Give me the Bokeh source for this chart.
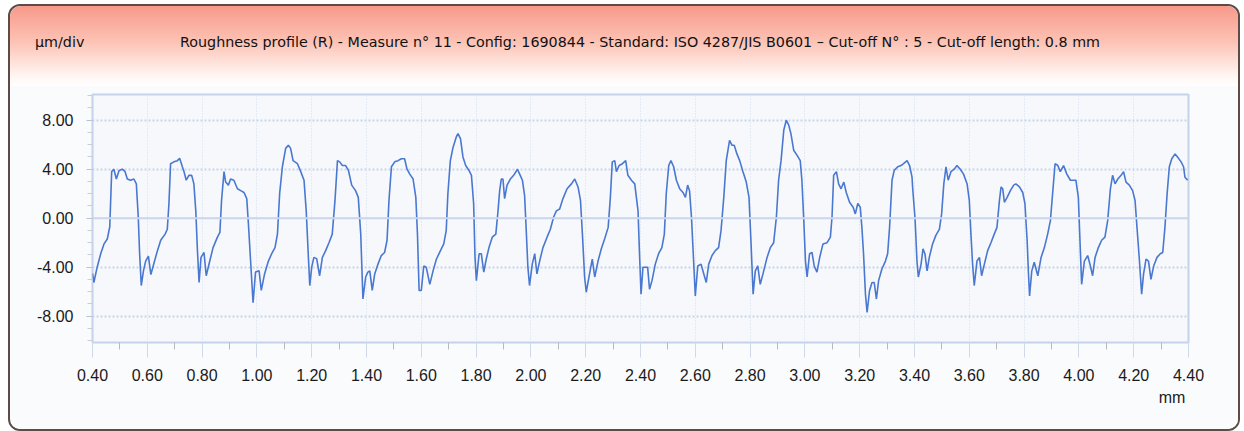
from bokeh.plotting import figure
from bokeh.models import (Range1d, FixedTicker, NumeralTickFormatter, Span, Div, ColumnDataSource,
                          LinearAxis)
from bokeh.layouts import column
from bokeh.embed import file_html
from bokeh.resources import INLINE

unit_label = "µm/div"
title_text = ("Roughness profile (R) - Measure n° 11 - Config: 1690844 - Standard: ISO 4287/JIS B0601"
              " – Cut-off N° : 5 - Cut-off length: 0.8 mm")
x_unit = "mm"
x_unit_pos = 4.34

x_ticks = [0.40, 0.60, 0.80, 1.00, 1.20, 1.40, 1.60, 1.80, 2.00, 2.20, 2.40,
           2.60, 2.80, 3.00, 3.20, 3.40, 3.60, 3.80, 4.00, 4.20, 4.40]
x_minor = [0.5, 0.7, 0.9, 1.1, 1.3, 1.5, 1.7, 1.9, 2.1, 2.3, 2.5, 2.7, 2.9,
           3.1, 3.3, 3.5, 3.7, 3.9, 4.1, 4.3]
y_ticks = [-8.0, -4.0, 0.0, 4.0, 8.0]
y_minor = [-10, -9, -7, -6, -5, -3, -2, -1, 1, 2, 3, 5, 6, 7, 9, 10]
y_grid = [-8.0, -4.0, 4.0, 8.0]

profile_x = [
    0.400, 0.405, 0.417, 0.430, 0.442, 0.454, 0.463, 0.470, 0.478, 0.487, 0.497, 0.509, 0.519, 0.527,
    0.539, 0.551, 0.560, 0.567, 0.572, 0.578, 0.586, 0.594, 0.604, 0.613, 0.624, 0.637, 0.649, 0.665,
    0.673, 0.679, 0.685, 0.697, 0.710, 0.718, 0.728, 0.734, 0.742, 0.752, 0.762, 0.770, 0.777, 0.783,
    0.789, 0.796, 0.807, 0.815, 0.828, 0.840, 0.856, 0.865, 0.871, 0.880, 0.886, 0.896, 0.904, 0.916,
    0.929, 0.941, 0.953, 0.963, 0.969, 0.977, 0.986, 0.995, 1.008, 1.016, 1.028, 1.042, 1.054, 1.066,
    1.075, 1.083, 1.093, 1.105, 1.115, 1.123, 1.132, 1.148, 1.160, 1.172, 1.180, 1.188, 1.193, 1.200,
    1.208, 1.218, 1.229, 1.239, 1.251, 1.263, 1.275, 1.285, 1.294, 1.302, 1.312, 1.324, 1.334, 1.346,
    1.360, 1.370, 1.379,
    1.387, 1.397, 1.405, 1.412, 1.421, 1.430, 1.442, 1.454, 1.466, 1.475, 1.482, 1.491, 1.503, 1.515,
    1.527, 1.539, 1.548, 1.558, 1.570, 1.580, 1.586, 1.592, 1.600, 1.609, 1.618, 1.631, 1.643, 1.655,
    1.670, 1.682, 1.691, 1.697, 1.706, 1.716, 1.728, 1.734, 1.743, 1.752, 1.762, 1.774, 1.783, 1.791,
    1.796, 1.801, 1.811, 1.819, 1.828, 1.837, 1.847, 1.859, 1.872, 1.880, 1.886, 1.892, 1.898, 1.904,
    1.913, 1.925, 1.937, 1.951, 1.959, 1.969, 1.977, 1.983, 1.989, 1.995, 2.005, 2.014, 2.022, 2.032,
    2.044, 2.059, 2.071, 2.083, 2.093, 2.105, 2.117, 2.132, 2.148, 2.160, 2.172, 2.181, 2.188, 2.196,
    2.202, 2.212, 2.224, 2.233, 2.245, 2.257, 2.269, 2.282, 2.290, 2.297, 2.306, 2.312, 2.322, 2.334,
    2.346, 2.354, 2.367, 2.379, 2.391,
    2.396, 2.402, 2.409, 2.418, 2.426, 2.433, 2.442, 2.454, 2.466, 2.478, 2.487, 2.494, 2.503, 2.511,
    2.521, 2.531, 2.543, 2.555, 2.564, 2.572, 2.579, 2.586, 2.592, 2.600, 2.609, 2.621, 2.631, 2.640,
    2.649, 2.661, 2.673, 2.685, 2.694, 2.704, 2.713, 2.725, 2.734, 2.742, 2.752, 2.762, 2.774, 2.786,
    2.796, 2.803, 2.811, 2.819, 2.828, 2.837, 2.847, 2.862, 2.874, 2.886, 2.896, 2.904, 2.913, 2.923,
    2.932, 2.941, 2.949, 2.959, 2.971, 2.983, 2.989, 2.996, 3.002, 3.008, 3.017, 3.026, 3.034, 3.044,
    3.054, 3.066, 3.081, 3.093, 3.099, 3.105, 3.115, 3.123, 3.132, 3.142, 3.151, 3.163, 3.176, 3.184,
    3.193, 3.202, 3.208, 3.214, 3.221, 3.227, 3.236, 3.245, 3.253, 3.261, 3.269, 3.281, 3.294, 3.302,
    3.309, 3.318, 3.326, 3.339, 3.351, 3.360, 3.373, 3.382, 3.391,
    3.393, 3.402, 3.409, 3.414, 3.424, 3.431, 3.438, 3.446, 3.454, 3.466, 3.478, 3.491, 3.499, 3.507,
    3.515, 3.523, 3.533, 3.545, 3.555, 3.567, 3.579, 3.592, 3.600, 3.606, 3.612, 3.618, 3.628, 3.637,
    3.645, 3.655, 3.667, 3.679, 3.691, 3.701, 3.710, 3.716, 3.722, 3.728, 3.738, 3.750, 3.762, 3.770,
    3.783, 3.795, 3.803, 3.811, 3.816, 3.820, 3.828, 3.837, 3.850, 3.862, 3.874, 3.886, 3.896, 3.904,
    3.913, 3.923, 3.932, 3.944, 3.956, 3.969, 3.981, 3.989, 3.998, 4.003, 4.010, 4.020, 4.032, 4.042,
    4.050, 4.059, 4.071, 4.083, 4.095, 4.105, 4.115, 4.123, 4.132, 4.142, 4.154, 4.163, 4.172, 4.184,
    4.196, 4.205, 4.212, 4.221, 4.229, 4.236, 4.245, 4.254, 4.263, 4.273, 4.285, 4.297, 4.306, 4.314,
    4.322, 4.330, 4.339, 4.351, 4.360, 4.373, 4.382, 4.387, 4.397,
]
profile_y = [
    -4.5, -5.25, -4.0, -2.9, -2.1, -1.7, -0.7, 3.8, 4.0, 3.2, 3.9, 4.0, 3.8, 3.2,
    3.1, 3.2, 2.8, 0.1, -2.9, -5.5, -4.3, -3.5, -3.1, -4.6, -3.7, -2.65, -1.8, -1.3,
    -0.9, 1.2, 4.45, 4.6, 4.7, 4.9, 4.2, 3.8, 3.1, 3.5, 3.5, 2.8, 0.6, -2.65,
    -5.25, -3.2, -2.8, -4.7, -3.5, -2.4, -1.55, -1.15, 1.45, 3.8, 2.95, 2.7, 3.2, 3.1,
    2.4, 2.25, 2.1, 1.6, -0.45, -3.5, -6.9, -4.4, -4.3, -5.9, -4.55, -3.5, -2.9, -2.4,
    -1.3, 2.0, 4.2, 5.7, 5.95, 5.7, 4.7, 4.45, 3.8, 3.1, 0.6, -3.2, -5.5, -4.0,
    -3.2, -3.3, -4.7, -3.2, -2.65, -2.0, -1.3, 1.45, 4.7, 4.6, 4.3, 4.3, 3.9, 2.7,
    2.25, 1.7, -1.3,
    -6.6, -4.8, -4.4, -4.3, -5.9, -4.55, -3.75, -3.05, -2.8, -1.8, 1.45, 4.2, 4.6, 4.7,
    4.85, 4.85, 4.0, 3.6, 3.2, 1.7, -1.3, -5.9, -5.9, -3.9, -4.0, -5.4, -4.3, -3.35,
    -2.65, -2.1, -1.0, 2.0, 4.7, 5.8, 6.65, 6.9, 6.5, 5.0, 4.3, 3.9, 3.5, 1.2,
    -3.2, -5.1, -2.9, -2.9, -4.4, -3.35, -2.4, -1.55, -1.3, 0.6, 2.25, 3.2, 3.2, 1.6,
    2.7, 3.2, 3.5, 4.0, 3.6, 3.1, 1.85, -1.0, -4.0, -5.5, -3.75, -2.9, -4.55, -3.5,
    -2.4, -1.55, -0.9, 0.1, 0.6, 0.75, 1.6, 2.4, 2.8, 3.2, 2.55, 1.45, -1.3, -4.8,
    -6.05, -4.8, -3.35, -4.8, -3.5, -2.5, -1.7, -0.75, 1.7, 4.6, 4.7, 3.8, 4.3, 4.45,
    4.7, 3.5, 3.1, 2.8, 0.6,
    -2.65, -6.2, -4.0, -4.0, -4.0, -5.8, -5.1, -3.75, -2.9, -2.4, -1.3, 2.0, 4.3, 4.7,
    4.2, 3.1, 2.4, 2.1, 1.7, 2.7, 2.25, 0.1, -2.65, -6.35, -3.9, -3.75, -4.55, -5.25,
    -3.75, -3.05, -2.65, -2.4, -1.0, 1.7, 4.7, 6.35, 5.95, 5.95, 5.25, 4.7, 3.8, 2.95,
    1.7, -1.8, -6.2, -4.3, -3.9, -5.4, -4.55, -3.2, -2.4, -2.0, 0.1, 3.1, 4.7, 7.2,
    8.0, 7.6, 6.9, 5.55, 5.15, 4.7, 3.1, -0.2, -3.5, -4.8, -2.9, -2.8, -3.9, -4.4,
    -3.2, -2.1, -2.0, -1.55, 0.1, 3.5, 3.8, 2.8, 2.4, 2.95, 2.1, 1.3, 0.9, 0.35,
    1.2, 0.9, -0.75, -2.9, -6.2, -7.7, -5.9, -5.25, -5.25, -6.6, -5.1, -4.15, -3.5, -2.9,
    -0.75, 3.1, 3.9, 4.2, 4.3, 4.45, 4.7, 4.3, 3.35,
    2.55, -0.05, -3.5, -4.8, -3.75, -2.5, -2.9, -4.3, -3.2, -2.1, -1.4, -0.9, 0.35, 2.8,
    4.2, 3.1, 3.8, 4.0, 4.3, 4.0, 3.6, 2.8, 1.45, -1.3, -3.75, -5.5, -3.5, -3.2,
    -4.7, -3.75, -2.65, -2.0, -1.3, -0.75, 1.45, 2.55, 2.4, 1.3, 1.7, 2.25, 2.7, 2.8,
    2.55, 2.1, 1.2, -1.8, -4.55, -6.35, -4.3, -3.6, -4.7, -3.2, -2.4, -1.3, -0.2, 2.0,
    4.45, 4.3, 3.8, 4.3, 3.6, 3.1, 3.1, 3.1, 1.7, -1.3, -5.4, -3.5, -3.05, -3.9,
    -4.7, -3.2, -2.4, -1.8, -1.55, -0.2, 2.4, 3.5, 2.8, 3.2, 3.5, 3.8, 2.95, 2.7,
    2.25, 1.45, -0.75, -3.5, -6.2, -4.55, -3.35, -3.5, -5.0, -3.9, -3.2, -2.9, -2.8, -0.75,
    2.0, 4.2, 4.85, 5.25, 5.0, 4.6, 4.2, 3.35, 3.1,
]

LABEL_FONT = "Liberation Sans"
LABEL_SIZE = "16px"
LABEL_COLOR = "#1a1a1a"
GRID_BLUE = "#c9d6ec"

source = ColumnDataSource(data=dict(x=profile_x, y=profile_y))

p = figure(width=1228, height=343, output_backend="svg", toolbar_location=None,
           x_range=Range1d(0.4, 4.4), y_range=Range1d(-10.15, 10.1),
           min_border_left=82, min_border_right=50, min_border_top=8, min_border_bottom=87,
           background_fill_color="#f6f8fc", border_fill_color="#fafbfd",
           outline_line_color="#c5d3ea", outline_line_width=2, margin=0)

# grids
p.xgrid.ticker = FixedTicker(ticks=x_ticks)
p.xgrid.grid_line_color = "#d3deef"
p.xgrid.grid_line_dash = "1 2"
p.xgrid.grid_line_width = 1
p.ygrid.ticker = FixedTicker(ticks=y_grid)
p.ygrid.grid_line_color = GRID_BLUE
p.ygrid.grid_line_dash = "2 2"
p.ygrid.grid_line_width = 2
p.add_layout(Span(location=0, dimension="width", line_color=GRID_BLUE, line_width=2))

# axes
p.xaxis.ticker = FixedTicker(ticks=x_ticks, minor_ticks=x_minor)
p.yaxis.ticker = FixedTicker(ticks=y_ticks, minor_ticks=y_minor)
p.xaxis.formatter = NumeralTickFormatter(format="0.00")
p.yaxis.formatter = NumeralTickFormatter(format="0.00")
for ax in (p.xaxis, p.yaxis):
    ax.axis_line_color = None
    ax.major_label_text_font = LABEL_FONT
    ax.major_label_text_font_size = LABEL_SIZE
    ax.major_label_text_color = LABEL_COLOR
p.xaxis.major_tick_in = 0
p.xaxis.major_tick_out = 15
p.xaxis.major_tick_line_color = "#cfd9ea"
p.xaxis.minor_tick_in = 0
p.xaxis.minor_tick_out = 7
p.xaxis.minor_tick_line_color = "#b5b9c2"
p.xaxis.major_label_standoff = 11
p.yaxis.major_tick_in = 0
p.yaxis.major_tick_out = 6
p.yaxis.major_tick_line_color = "#b8c2d4"
p.yaxis.minor_tick_in = 0
p.yaxis.minor_tick_out = 5
p.yaxis.minor_tick_line_color = "#c8cfdc"
p.yaxis.major_label_standoff = 13

# unit label "mm" under the right end of the x axis
unit_axis = LinearAxis(ticker=FixedTicker(ticks=[x_unit_pos]),
                       major_label_overrides={x_unit_pos: x_unit},
                       axis_line_color=None, major_tick_line_color=None,
                       minor_tick_line_color=None, major_tick_out=0, major_tick_in=0,
                       major_label_standoff=5, major_label_text_font=LABEL_FONT,
                       major_label_text_font_size=LABEL_SIZE, major_label_text_color=LABEL_COLOR)
p.add_layout(unit_axis, "below")

p.line("x", "y", source=source, line_color="#4a78d0", line_width=1.6)

header_html = (
    '<div style="position:relative;width:1228px;height:80px;font-family:\'DejaVu Sans\';'
    'font-size:14.3px;color:#111;">'
    f'<span style="position:absolute;left:25px;top:26px;white-space:nowrap;">{unit_label}</span>'
    f'<span style="position:absolute;left:170px;top:26px;white-space:nowrap;">{title_text}</span>'
    '</div>'
)
header = Div(text=header_html, width=1228, height=80, margin=0,
             styles={"background": "linear-gradient(to bottom, #f8998a 0%, #fcc3b5 45%, #fff3ef 85%, #ffffff 100%)",
                     "border-radius": "11px 11px 0 0"})

layout = column(header, p, margin=(4, 0, 0, 8),
                styles={"border": "2px solid #5e4a47", "border-radius": "12px",
                        "overflow": "hidden", "background": "#fafbfd"})

open("out.html", "w").write(file_html(layout, INLINE))
